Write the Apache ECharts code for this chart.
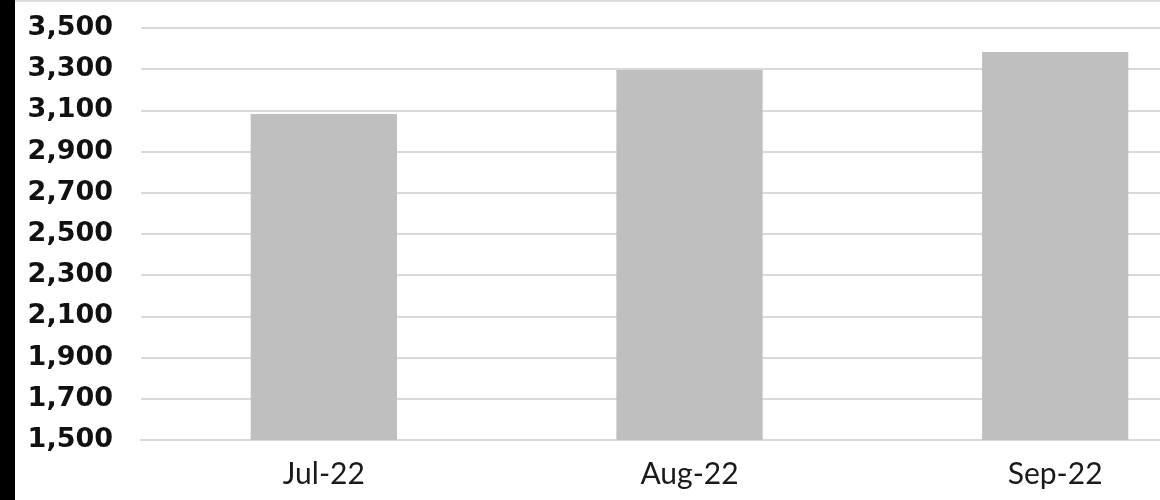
<!DOCTYPE html>
<html>
<head>
<meta charset="utf-8">
<script src="https://cdn.jsdelivr.net/npm/echarts@6/dist/echarts.min.js"></script>
<style>
html,body{margin:0;padding:0;background:#fff;}
#chart{width:1160px;height:500px;}
</style>
</head>
<body>
<div id="chart"></div>
<script>
const categories = ['Jul-22', 'Aug-22', 'Sep-22'];
const values = [3083, 3296, 3384];
const yMin = 1500, yMax = 3500, yStep = 200;

const chart = echarts.init(document.getElementById('chart'), null, {renderer: 'canvas'});
chart.setOption({
  animation: false,
  backgroundColor: '#ffffff',
  graphic: [
    {type: 'rect', left: 0, top: 0, shape: {width: 15, height: 500}, style: {fill: '#000'}, z: 10},
    {type: 'rect', left: 15, top: 0, shape: {width: 1145, height: 2}, style: {fill: '#dcdcdc'}, z: 10}
  ],
  grid: {left: 141, width: 1097, top: 28, height: 412, containLabel: false, outerBoundsMode: 'none'},
  xAxis: {
    type: 'category',
    data: categories,
    axisLine: {show: true, lineStyle: {color: '#d9d9d9', width: 2}},
    axisTick: {show: false},
    axisLabel: {color: '#1a1a1a', fontFamily: 'Lato', fontWeight: 'normal', fontSize: 30, margin: 19}
  },
  yAxis: {
    type: 'value',
    min: yMin, max: yMax, interval: yStep,
    axisLine: {show: false},
    axisTick: {show: false},
    splitLine: {lineStyle: {color: '#d9d9d9', width: 2}},
    axisLabel: {
      color: '#111', fontFamily: 'DejaVu Sans', fontWeight: 'bold', fontSize: 27, margin: 28,
      formatter: v => v.toLocaleString('en-US')
    }
  },
  series: [{
    type: 'bar',
    data: values,
    barWidth: '40%',
    itemStyle: {color: '#bfbfbf'}
  }]
});
</script>
</body>
</html>
